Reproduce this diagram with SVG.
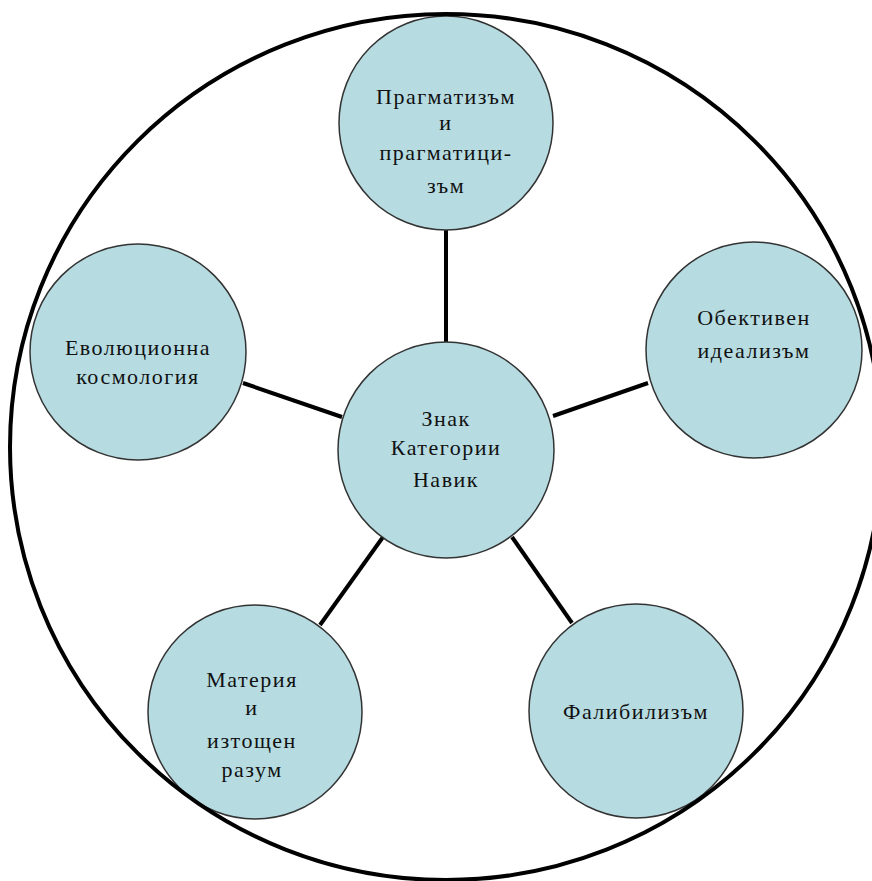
<svg xmlns="http://www.w3.org/2000/svg" width="872" height="881" viewBox="0 0 872 881">
<style>
.node{fill:#b6dce2;stroke:#333;stroke-width:1.5}
.lbl{font-family:"Liberation Serif","DejaVu Serif",serif;font-size:22px;letter-spacing:1.5px;fill:#111;text-anchor:middle}
.conn line{stroke:#000;stroke-width:4;stroke-linecap:butt}
</style>
<rect width="872" height="881" fill="#fff"/>
<g id="connectors" class="conn">
<line x1="446" y1="229" x2="446" y2="343"/>
<line x1="243" y1="383" x2="342" y2="417"/>
<line x1="553" y1="416" x2="648" y2="383"/>
<line x1="383" y1="537" x2="320" y2="625"/>
<line x1="512" y1="537" x2="572" y2="623"/>
</g>
<g id="node-center">
<circle class="node" cx="446" cy="450" r="108"/>
<text class="lbl" x="446" y="426">Знак</text>
<text class="lbl" x="446" y="455">Категории</text>
<text class="lbl" x="446" y="487">Навик</text>
</g>
<g id="node-top">
<circle class="node" cx="446" cy="123" r="107"/>
<text class="lbl" x="446" y="104">Прагматизъм</text>
<text class="lbl" x="446" y="130">и</text>
<text class="lbl" x="446" y="160">прагматици-</text>
<text class="lbl" x="446" y="193">зъм</text>
</g>
<g id="node-left">
<circle class="node" cx="138" cy="352" r="108"/>
<text class="lbl" x="138" y="355">Еволюционна</text>
<text class="lbl" x="138" y="384">космология</text>
</g>
<g id="node-right">
<circle class="node" cx="754" cy="350" r="108"/>
<text class="lbl" x="754" y="325">Обективен</text>
<text class="lbl" x="754" y="358">идеализъм</text>
</g>
<g id="node-bottom-left">
<circle class="node" cx="255" cy="712" r="107"/>
<text class="lbl" x="252" y="687">Материя</text>
<text class="lbl" x="252" y="715">и</text>
<text class="lbl" x="252" y="748">изтощен</text>
<text class="lbl" x="252" y="777">разум</text>
</g>
<g id="node-bottom-right">
<circle class="node" cx="636" cy="711" r="107"/>
<text class="lbl" x="636" y="719">Фалибилизъм</text>
</g>
<ellipse id="outer" cx="446" cy="447" rx="436" ry="433" fill="none" stroke="#000" stroke-width="4"/>
</svg>
